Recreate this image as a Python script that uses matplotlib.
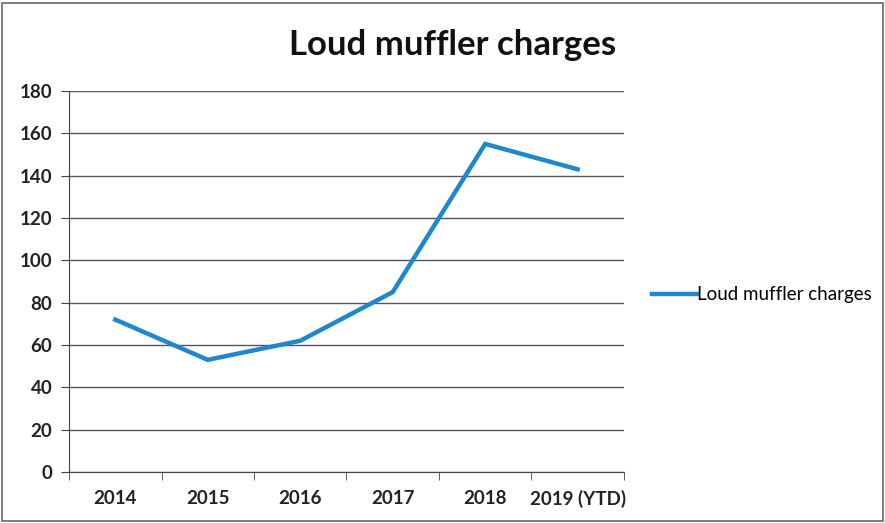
import matplotlib.pyplot as plt
from matplotlib.patches import Rectangle

# data
years = ["2014", "2015", "2016", "2017", "2018", "2019 (YTD)"]
charges = [72, 53, 62, 85, 155, 143]
y_ticks = list(range(0, 181, 20))

plt.rcParams['font.family'] = ['Lato', 'DejaVu Sans']

fig = plt.figure(figsize=(8.85, 5.23), dpi=100)
ax = fig.add_axes([0.078, 0.0975, 0.627, 0.7285])

x = range(len(years))
ax.plot(x, charges, color="#1f88cc", linewidth=3.2, label="Loud muffler charges",
        solid_joinstyle="miter")

ax.set_xlim(-0.5, len(years) - 0.5)
ax.set_ylim(0, 180)
ax.set_yticks(y_ticks)
ax.set_yticklabels([str(v) for v in y_ticks], fontsize=13.5, fontweight="bold", color="#222222")
ax.set_xticks(list(x))
ax.set_xticklabels(years, fontsize=13.5, fontweight="bold", color="#222222")
ax.tick_params(axis="x", length=0, pad=13)
ax.set_xticks([i - 0.5 for i in range(len(years) + 1)], minor=True)
ax.tick_params(axis="x", which="minor", length=6, color="#444444", direction="out")
ax.tick_params(axis="y", length=6, color="#444444", pad=6)

ax.grid(axis="y", color="#555566", linewidth=1)
ax.set_axisbelow(True)
for side in ["top", "right"]:
    ax.spines[side].set_visible(False)
ax.spines["left"].set_color("#444444")
ax.spines["bottom"].set_color("#444444")

fig.suptitle("Loud muffler charges", x=0.511, y=0.945, fontsize=25, fontweight="bold", color="#111111")

ax.legend(loc="center left", bbox_to_anchor=(1.02, 0.465), frameon=False,
          fontsize=13.5, handlelength=2.4, handletextpad=0.0)

# page-like border around the picture
fig.patches.append(Rectangle((0.002, 0.004), 0.996, 0.99, transform=fig.transFigure,
                             fill=False, edgecolor="#666677", linewidth=1.2))

fig.savefig("out.png", dpi=100)
